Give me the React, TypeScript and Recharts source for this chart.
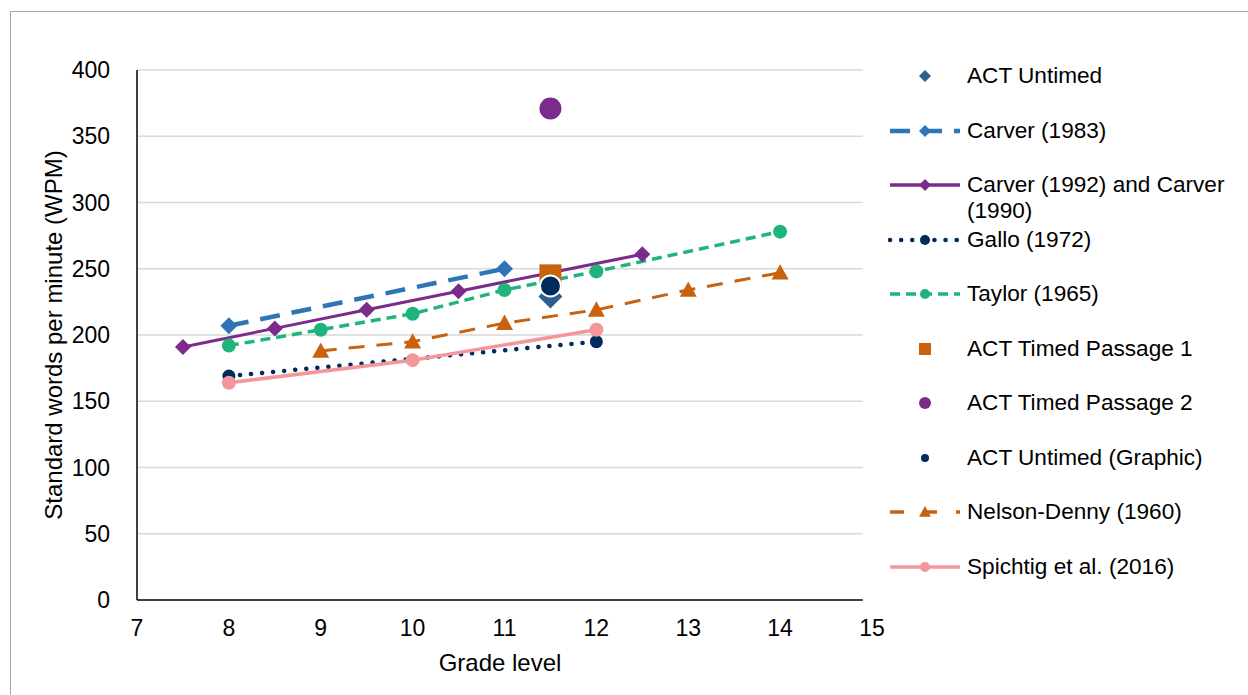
import { ComposedChart, Line, XAxis, YAxis, ReferenceLine, Label } from 'recharts'

// grade levels and reading rates (WPM)
const carver1983X = [8, 11]
const carver1983Y = [207, 250]
const carver1992X = [7.5, 8.5, 9.5, 10.5, 11.5, 12.5]
const carver1992Y = [191, 205, 219, 233, 247, 261]
const galloX = [8, 12]
const galloY = [169, 195]
const taylorX = [8, 9, 10, 11, 12, 14]
const taylorY = [192, 204, 216, 234, 248, 278]
const nelsonX = [9, 10, 11, 12, 13, 14]
const nelsonY = [188, 195, 209, 219, 234, 247]
const spichtigX = [8, 10, 12]
const spichtigY = [164, 181, 204]
const actGrade = [11.5]
const actUntimed = [229]
const actTimed1 = [245]
const actTimed2 = [371]
const actGraphic = [237]

const xTicks = [7, 8, 9, 10, 11, 12, 13, 14, 15]
const yTicks = [0, 50, 100, 150, 200, 250, 300, 350, 400]

const pts = (xs: number[], ys: number[]) => xs.map((x, i) => ({ x, y: ys[i] }))

const FONT = 'Liberation Sans, Arial, sans-serif'

type Shape = 'diamond' | 'circle' | 'triangle' | 'square' | 'none'

function Marker({ cx, cy, shape, size, fill, stroke }: { cx: number; cy: number; shape: Shape; size: number; fill: string; stroke?: string }) {
  const h = size / 2
  if (shape === 'diamond')
    return <polygon points={`${cx},${cy - h} ${cx + h},${cy} ${cx},${cy + h} ${cx - h},${cy}`} fill={fill} />
  if (shape === 'triangle')
    return <polygon points={`${cx},${cy - h} ${cx + h},${cy + h * 0.8} ${cx - h},${cy + h * 0.8}`} fill={fill} />
  if (shape === 'square') return <rect x={cx - h} y={cy - h} width={size} height={size} fill={fill} />
  if (shape === 'circle')
    return <circle cx={cx} cy={cy} r={h} fill={fill} stroke={stroke ?? 'none'} strokeWidth={stroke ? 2 : 0} />
  return null
}

const dotFn = (shape: Shape, size: number, fill: string, stroke?: string) => (p: any) =>
  <Marker key={`${p.index}-${p.cx}`} cx={p.cx} cy={p.cy} shape={shape} size={size} fill={fill} stroke={stroke} />

interface Series {
  name: string
  data: { x: number; y: number }[]
  color: string
  width: number
  dash?: string
  legendDash?: string
  cap?: 'round' | 'butt'
  shape: Shape
  size: number
  legendSize: number
  markerStroke?: string
}

const lineSeries: Series[] = [
  { name: 'Carver (1983)', data: pts(carver1983X, carver1983Y), color: '#2E75B6', width: 4.5, dash: '20 12', shape: 'diamond', size: 17, legendSize: 12 },
  { name: 'Carver (1992) and Carver (1990)', data: pts(carver1992X, carver1992Y), color: '#7B2C8B', width: 3, shape: 'diamond', size: 16, legendSize: 12 },
  { name: 'Gallo (1972)', data: pts(galloX, galloY), color: '#002B5C', width: 4.5, dash: '0.1 11', cap: 'round', shape: 'circle', size: 13, legendSize: 10 },
  { name: 'Taylor (1965)', data: pts(taylorX, taylorY), color: '#1FB47C', width: 3.5, dash: '10 6', shape: 'circle', size: 14, legendSize: 10 },
  { name: 'Nelson-Denny (1960)', data: pts(nelsonX, nelsonY), color: '#C8620E', width: 3, dash: '16 12', legendDash: '14 19', shape: 'triangle', size: 17, legendSize: 12 },
  { name: 'Spichtig et al. (2016)', data: pts(spichtigX, spichtigY), color: '#F4979B', width: 3.5, shape: 'circle', size: 14, legendSize: 10 },
]

const pointSeries: Series[] = [
  { name: 'ACT Untimed', data: pts(actGrade, actUntimed), color: '#2E5E8E', width: 0, shape: 'diamond', size: 24, legendSize: 12 },
  { name: 'ACT Timed Passage 1', data: pts(actGrade, actTimed1), color: '#C8620E', width: 0, shape: 'square', size: 22, legendSize: 12 },
  { name: 'ACT Timed Passage 2', data: pts(actGrade, actTimed2), color: '#7B2C8B', width: 0, shape: 'circle', size: 22, legendSize: 12 },
  { name: 'ACT Untimed (Graphic)', data: pts(actGrade, actGraphic), color: '#002B5C', width: 0, shape: 'circle', size: 21, legendSize: 8, markerStroke: '#fff' },
]

const legendOrder = [
  'ACT Untimed',
  'Carver (1983)',
  'Carver (1992) and Carver (1990)',
  'Gallo (1972)',
  'Taylor (1965)',
  'ACT Timed Passage 1',
  'ACT Timed Passage 2',
  'ACT Untimed (Graphic)',
  'Nelson-Denny (1960)',
  'Spichtig et al. (2016)',
]

function LegendBox() {
  const all = [...lineSeries, ...pointSeries]
  return (
    <div style={{ position: 'absolute', left: 888, top: 0, fontFamily: FONT, fontSize: 22.6, color: '#000' }}>
      {legendOrder.map((name, i) => {
        const s = all.find((d) => d.name === name)!
        const top = 76 + i * 54.5
        return (
          <div key={name} style={{ position: 'absolute', top: top - 13, left: 0, display: 'flex', alignItems: 'flex-start', width: 360 }}>
            <svg width={74} height={26} style={{ flex: 'none' }}>
              {s.width > 0 && (
                <line x1={2} y1={13} x2={72} y2={13} stroke={s.color} strokeWidth={Math.max(s.width, 3.5)} strokeDasharray={s.legendDash ?? s.dash} strokeLinecap={s.cap ?? 'butt'} />
              )}
              <Marker cx={37} cy={13} shape={s.shape} size={s.legendSize} fill={s.color} />
            </svg>
            <div style={{ marginLeft: 5, width: 272, lineHeight: '26px' }}>{name}</div>
          </div>
        )
      })}
    </div>
  )
}

export default function App() {
  return (
    <div style={{ position: 'fixed', left: 0, top: 0, width: 1248, height: 695, background: '#fff' }}>
      <div style={{ position: 'absolute', left: 10, top: 11, right: 0, bottom: 0, borderTop: '1.5px solid #A6A6A6', borderLeft: '1.5px solid #A6A6A6' }} />
      <ComposedChart width={1248} height={695} margin={{ top: 70, right: 376, bottom: 35, left: 77 }} style={{ position: 'absolute', left: 0, top: 0 }}>
        <XAxis
          type="number"
          dataKey="x"
          domain={[7, 15]}
          ticks={xTicks}
          axisLine={false}
          tickLine={false}
          tickMargin={14}
          height={60}
          tick={{ fill: '#000', fontSize: 23, fontFamily: FONT }}
          allowDuplicatedCategory={false}
        >
          <Label
            content={() => (
              <text x={500} y={671} textAnchor="middle" fontSize={24} fontFamily={FONT} fill="#000">
                Grade level
              </text>
            )}
          />
        </XAxis>
        <YAxis
          type="number"
          domain={[0, 400]}
          ticks={yTicks}
          width={60}
          axisLine={{ stroke: '#000', strokeWidth: 1.5 }}
          tickLine={false}
          tickMargin={21}
          tick={{ fill: '#000', fontSize: 23, fontFamily: FONT }}
        >
          <Label
            content={() => (
              <text x={0} y={0} transform="translate(62,335) rotate(-90)" textAnchor="middle" fontSize={24} fontFamily={FONT} fill="#000">
                Standard words per minute (WPM)
              </text>
            )}
          />
        </YAxis>
        {yTicks.slice(1).map((t) => (
          <ReferenceLine key={t} segment={[{ x: 7, y: t }, { x: 14.9, y: t }]} stroke="#D9D9D9" strokeWidth={1.5} />
        ))}
        <ReferenceLine segment={[{ x: 7, y: 0 }, { x: 14.9, y: 0 }]} stroke="#000" strokeWidth={1.5} />
        {lineSeries.map((s) => (
          <Line
            key={s.name}
            name={s.name}
            data={s.data}
            dataKey="y"
            type="linear"
            stroke={s.color}
            strokeWidth={s.width}
            strokeDasharray={s.dash}
            strokeLinecap={s.cap ?? 'butt'}
            dot={dotFn(s.shape, s.size, s.color)}
            activeDot={false}
            isAnimationActive={false}
          />
        ))}
        {pointSeries.map((s) => (
          <Line
            key={s.name}
            name={s.name}
            data={s.data}
            dataKey="y"
            stroke="none"
            dot={dotFn(s.shape, s.size, s.color, s.markerStroke)}
            activeDot={false}
            isAnimationActive={false}
          />
        ))}
      </ComposedChart>
      <LegendBox />
    </div>
  )
}
